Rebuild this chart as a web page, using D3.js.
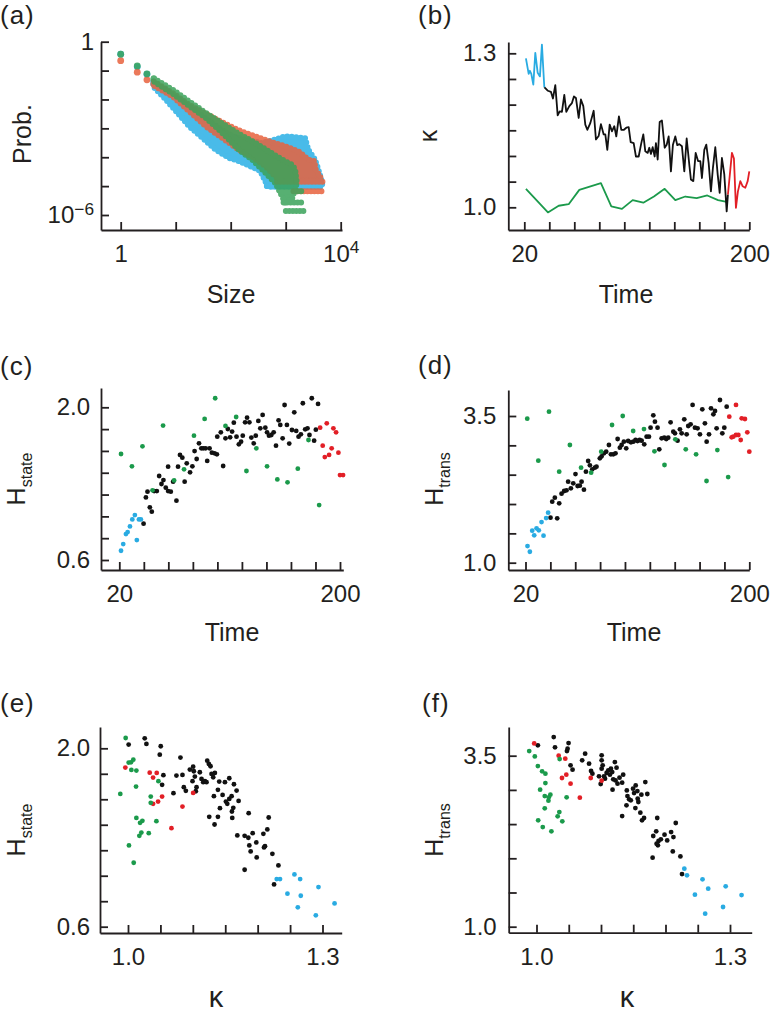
<!DOCTYPE html>
<html>
<head>
<meta charset="utf-8">
<script src="https://cdn.jsdelivr.net/npm/d3@7/dist/d3.min.js"></script>
<style>
  body { margin: 0; background: #fff; }
  svg text { font-family: "Liberation Sans", Arial, Helvetica, sans-serif; fill: #231f20; }
</style>
</head>
<body>
<script>
// ---------------- panel (a): size distributions, [size, prob] ----------------
var aBlueHead = [[1, 0.37], [2, 0.137], [3, 0.075]];
var aRedHead = [[1, 0.22], [2, 0.088], [3, 0.048], [4, 0.034]];
var aGreenHead = [[1, 0.37], [2, 0.145], [3, 0.077], [4, 0.051]];

// outline of each dense cloud: upper edge left->right, then lower edge right->left
var aBlueCloud = [[3.9, 4.2e-2], [11.7, 9.7e-3], [23.4, 3.9e-3], [46.7, 1.45e-3], [93, 6.0e-4], [186, 3.9e-4],
  [372, 3.1e-4], [647, 4.1e-4], [979, 5.3e-4], [1483, 5.0e-4], [2244, 4.6e-4], [2576, 1.8e-4], [3400, 8.3e-5],
  [3907, 3.8e-5], [4365, 1.9e-5], [4613, 1.14e-5],
  [4613, 9.5e-6], [1483, 9.5e-6], [458, 9.5e-6], [440, 1.3e-5], [347, 3.3e-5], [246, 4.6e-5], [141, 7.3e-5],
  [93, 9.5e-5], [53.7, 1.8e-4], [30.9, 4.6e-4], [17.7, 1.17e-3], [10.2, 3.9e-3], [5.9, 1.27e-2], [3.9, 2.8e-2]];
var aRedCloud = [[4.0, 4.2e-2], [8.9, 1.65e-2], [17.7, 6.5e-3], [35.5, 3.2e-3], [70.8, 1.6e-3], [141, 8.5e-4],
  [282, 5.3e-4], [563, 3.3e-4], [979, 2.4e-4], [1702, 1.6e-4], [2576, 8.3e-5], [3311, 7.3e-5], [3499, 3.8e-5],
  [4365, 1.9e-5],
  [4487, 1.6e-5], [853, 1.5e-5], [647, 2.2e-5], [427, 4.9e-5], [246, 1.03e-4], [141, 1.8e-4], [70.8, 4.6e-4],
  [35.5, 1.17e-3], [17.7, 3.9e-3], [8.9, 1.27e-2], [4.0, 3.0e-2]];
var aGreenCloud = [[4.0, 5.4e-2], [8.9, 2.15e-2], [17.7, 8.5e-3], [35.5, 3.4e-3], [70.8, 1.45e-3], [141, 6.5e-4],
  [282, 3.1e-4], [491, 1.6e-4], [853, 8.3e-5], [1291, 5.6e-5], [1483, 3.8e-5], [1589, 1.3e-5],
  [1483, 7.7e-6], [1291, 3.5e-6], [979, 2.7e-6], [796, 5.9e-6], [647, 1.3e-5], [491, 2.2e-5], [372, 3.8e-5],
  [246, 8.3e-5], [141, 1.8e-4], [70.8, 6.9e-4], [35.5, 2.3e-3], [17.7, 6.0e-3], [8.9, 1.57e-2], [4.0, 4.2e-2]];

// rows of single-count sizes at the bottom: [from size, to size, prob]
var aBlueRows = [[458, 4613, 1.0e-5]];
var aRedRows = [[693, 5012, 1.41e-5], [1384, 4487, 6.7e-6]];
var aGreenRows = [[796, 1955, 6.7e-6], [916, 2084, 2.7e-6], [1007, 2244, 1.37e-6]];

// ---------------- panel (b): kappa over time, [time, kappa] ----------------
var bBlue = [[21.3, 1.290], [23.5, 1.260], [24.5, 1.266], [25.6, 1.260], [27.2, 1.239], [28.8, 1.301],
  [30.7, 1.262], [32.5, 1.255], [34.1, 1.317], [36.0, 1.234]];
var bBlack = [[36.0, 1.234], [38.9, 1.227], [41.3, 1.225], [42.9, 1.212], [44.8, 1.238], [46.7, 1.179],
  [48.3, 1.187], [50.1, 1.186], [52.0, 1.219], [53.6, 1.186], [56.0, 1.197], [58.1, 1.203], [59.7, 1.216],
  [61.3, 1.213], [63.5, 1.174], [65.3, 1.210], [67.2, 1.197], [68.8, 1.161], [70.4, 1.151], [72.8, 1.164],
  [75.5, 1.188], [77.3, 1.132], [79.5, 1.139], [81.3, 1.162], [83.5, 1.142], [84.8, 1.142], [86.4, 1.112],
  [88.3, 1.161], [90.1, 1.148], [92.0, 1.158], [93.6, 1.138], [95.7, 1.177], [97.6, 1.151], [99.7, 1.151],
  [101.6, 1.155], [103.5, 1.156], [105.1, 1.127], [107.5, 1.125], [109.3, 1.099], [111.5, 1.099],
  [113.6, 1.125], [115.2, 1.142], [116.8, 1.109], [118.7, 1.106], [120.0, 1.116], [121.3, 1.104],
  [122.7, 1.117], [124.3, 1.099], [125.3, 1.125], [126.7, 1.093], [128.3, 1.166], [130.1, 1.169],
  [132.3, 1.116], [133.9, 1.122], [135.5, 1.138], [137.3, 1.070], [138.9, 1.122], [140.8, 1.138],
  [142.4, 1.121], [144.0, 1.123], [146.1, 1.119], [148.0, 1.070], [149.9, 1.134], [152.0, 1.083],
  [153.3, 1.054], [155.2, 1.051], [157.1, 1.106], [159.0, 1.090], [160.8, 1.090], [162.1, 1.057],
  [164.0, 1.112], [165.6, 1.122], [167.5, 1.086], [169.3, 1.031], [170.9, 1.077], [172.8, 1.117],
  [174.7, 1.064], [176.3, 1.028], [178.1, 1.096], [180.0, 1.064], [181.9, 0.992], [182.9, 1.025]];
var bRed = [[182.9, 1.025], [186.1, 1.106], [187.7, 1.095], [189.3, 0.999], [190.9, 1.031], [192.8, 1.051],
  [194.7, 1.041], [196.8, 1.038], [198.7, 1.051], [200.0, 1.070]];
var bGreen = [[21.3, 1.036], [38.9, 0.990], [47.5, 1.003], [55.5, 1.006], [64.0, 1.034], [81.3, 1.047],
  [89.6, 1.002], [98.1, 0.997], [106.7, 1.014], [115.2, 1.009], [123.7, 1.021], [132.3, 1.036],
  [140.8, 1.014], [148.8, 1.021], [157.9, 1.018], [166.4, 1.023], [175.0, 1.014], [182.9, 1.010]];

// ---------------- panels (c),(d): entropies over time, [time, H] ----------------
var greenTime = [21.4, 30.3, 38.9, 47.1, 55.7, 64.7, 72.8, 80.9, 89.6, 98.2, 106.6, 115.3, 123.7, 131.8,
  140.5, 148.9, 157.2, 165.6, 174.3, 183.0];
var cGreenH = [1.572, 1.459, 1.642, 1.239, 1.832, 1.330, 1.431, 1.740, 1.893, 2.083, 1.829, 1.911, 1.416,
  1.624, 1.459, 1.339, 1.312, 1.437, 1.700, 1.104];
var dGreenH = [3.455, 2.739, 3.574, 2.551, 3.006, 2.619, 2.534, 2.892, 3.347, 3.500, 3.244, 3.278, 2.898,
  2.665, 3.102, 2.932, 2.847, 2.392, 2.920, 2.460];

var cBlue = [[21.4, 0.685], [23.2, 0.746], [25.4, 0.838], [26.8, 0.856], [28.7, 0.908], [30.6, 0.972],
  [32.7, 1.012], [34.3, 0.783], [36.0, 0.972], [37.6, 0.972]];
var cBlack = [[39.8, 0.933], [41.7, 1.174], [43.0, 1.226], [44.9, 1.083], [46.5, 1.043], [48.4, 1.232],
  [50.6, 1.232], [52.5, 1.370], [54.4, 1.297], [56.0, 1.333], [57.9, 1.263], [59.8, 1.232], [59.8, 1.456],
  [62.0, 1.226], [63.9, 1.318], [66.6, 1.144], [67.9, 1.456], [69.5, 1.563], [71.4, 1.538], [73.3, 1.318],
  [75.0, 1.486], [77.7, 1.404], [79.6, 1.459], [81.4, 1.599], [83.1, 1.526], [85.0, 1.670], [86.9, 1.624],
  [88.5, 1.624], [90.4, 1.624], [91.7, 1.508], [93.6, 1.624], [95.5, 1.584], [97.7, 1.578], [99.6, 1.569],
  [99.9, 1.731], [102.8, 1.771], [104.7, 1.462], [106.6, 1.716], [108.5, 1.801], [110.4, 1.725],
  [112.0, 1.777], [113.4, 1.859], [115.6, 1.731], [117.5, 1.661], [119.3, 1.685], [120.7, 1.740],
  [122.6, 1.862], [124.2, 1.905], [126.1, 1.862], [127.7, 1.722], [129.6, 1.670], [131.3, 1.740],
  [133.4, 1.875], [135.0, 1.807], [136.9, 1.930], [139.1, 1.813], [140.5, 1.771], [142.1, 1.740],
  [144.0, 1.746], [145.9, 1.771], [147.8, 1.648], [149.9, 1.881], [151.3, 1.838], [153.2, 1.716],
  [154.8, 2.021], [156.7, 1.838], [158.6, 1.667], [160.8, 1.792], [162.7, 1.954], [164.3, 1.783],
  [166.2, 1.731], [168.1, 1.752], [169.7, 2.037], [171.6, 1.798], [173.5, 1.807], [175.1, 1.746],
  [177.0, 2.083], [178.9, 1.694], [180.3, 1.795], [182.1, 2.031]];
var cRed = [[183.8, 1.813], [185.9, 1.648], [187.6, 1.544], [189.2, 1.853], [191.1, 1.563], [193.2, 1.624],
  [194.6, 1.807], [196.8, 1.771], [198.7, 1.584], [200.0, 1.379], [202.5, 1.379]];

var dBlue = [[21.6, 1.284], [23.5, 1.187], [25.4, 1.545], [27.0, 1.466], [28.9, 1.585], [30.7, 1.551],
  [32.9, 1.693], [34.5, 1.460], [36.6, 1.761], [38.2, 1.852]];
var dBlack = [[40.1, 1.767], [41.5, 2.040], [43.6, 2.108], [45.5, 1.756], [47.1, 2.011], [49.0, 2.176],
  [51.1, 2.222], [53.0, 2.233], [54.3, 2.381], [56.5, 2.267], [58.4, 2.352], [60.2, 2.511], [61.9, 2.307],
  [63.7, 2.312], [65.1, 2.381], [67.0, 2.244], [68.6, 2.551], [70.4, 2.733], [71.8, 2.659], [73.7, 2.591],
  [75.8, 2.619], [77.1, 2.636], [79.8, 2.778], [81.2, 2.812], [83.1, 2.864], [84.9, 2.892], [87.1, 3.006],
  [88.7, 2.847], [90.6, 2.847], [92.4, 2.864], [94.1, 3.108], [95.9, 2.960], [97.3, 3.006], [99.1, 3.062],
  [101.0, 2.949], [102.6, 3.074], [104.8, 3.051], [106.7, 3.062], [108.5, 3.091], [110.1, 3.074],
  [111.8, 3.091], [113.4, 3.080], [115.5, 3.017], [117.4, 3.148], [119.3, 3.148], [120.6, 3.301],
  [122.8, 3.511], [124.1, 3.403], [126.2, 3.301], [127.6, 2.932], [129.5, 3.119], [131.6, 3.131],
  [133.2, 3.108], [134.8, 3.131], [136.7, 3.392], [138.9, 3.233], [140.2, 3.205], [142.3, 3.080],
  [144.2, 3.273], [145.6, 3.205], [147.7, 3.443], [149.6, 3.187], [150.9, 3.330], [152.8, 3.358],
  [154.4, 3.688], [156.3, 3.301], [158.4, 3.290], [160.3, 3.187], [162.2, 3.614], [164.3, 3.375],
  [165.7, 3.062], [167.6, 3.187], [169.2, 3.631], [171.1, 3.528], [172.4, 3.585], [173.7, 3.290],
  [176.4, 3.773], [178.3, 3.205], [179.9, 3.301], [181.8, 3.659]];
var dRed = [[183.9, 3.489], [185.8, 3.136], [187.1, 3.148], [189.3, 3.688], [189.3, 3.176], [191.2, 3.176],
  [193.1, 3.091], [193.9, 3.460], [196.5, 3.449], [198.4, 3.222], [200.0, 2.892]];

// ---------------- panels (e),(f): entropies against kappa, [kappa, H] ----------------
var eGreen = [[0.9964, 2.081], [1.0010, 1.888], [1.0046, 1.890], [1.0082, 1.911], [1.0052, 1.830],
  [1.0129, 1.825], [1.0124, 1.700], [0.9881, 1.642], [1.0469, 1.742], [1.0351, 1.621], [1.0351, 1.572],
  [1.0438, 1.428], [1.0129, 1.454], [1.0222, 1.431], [1.0186, 1.415], [1.0206, 1.339], [1.0175, 1.313],
  [1.0320, 1.334], [1.0015, 1.238], [1.0088, 1.102]];
var eRed = [[0.9959, 1.849], [1.0335, 1.809], [1.0443, 1.807], [1.0387, 1.770], [1.0464, 1.582],
  [1.0387, 1.564], [1.0526, 1.621], [1.1005, 1.650], [1.0840, 1.543], [1.0670, 1.373]];
var eBlack = [[1.0258, 2.078], [1.0010, 2.029], [1.0284, 2.034], [1.0505, 2.016], [1.0490, 1.950],
  [1.0809, 1.927], [1.0546, 1.789], [1.0526, 1.713], [1.0747, 1.786], [1.0840, 1.791], [1.0701, 1.648],
  [1.0861, 1.695], [1.0892, 1.666], [1.0954, 1.833], [1.1005, 1.856], [1.1015, 1.820], [1.1031, 1.778],
  [1.0995, 1.742], [1.1057, 1.695], [1.1046, 1.663], [1.1108, 1.812], [1.1134, 1.760], [1.1160, 1.734],
  [1.1186, 1.742], [1.1211, 1.734], [1.1222, 1.903], [1.1247, 1.877], [1.1273, 1.859], [1.1289, 1.799],
  [1.1314, 1.773], [1.1340, 1.807], [1.1325, 1.624], [1.1407, 1.739], [1.1387, 1.674], [1.1418, 1.530],
  [1.1495, 1.734], [1.1459, 1.634], [1.1510, 1.582], [1.1531, 1.564], [1.1562, 1.603], [1.1562, 1.765],
  [1.1598, 1.624], [1.1624, 1.533], [1.1603, 1.504], [1.1634, 1.718], [1.1675, 1.668], [1.1706, 1.587],
  [1.1608, 1.454], [1.1253, 1.462], [1.1387, 1.462], [1.1335, 1.402], [1.1861, 1.491], [1.1686, 1.316],
  [1.1799, 1.313], [1.1856, 1.298], [1.1923, 1.334], [1.1871, 1.238], [1.1892, 1.191], [1.1979, 1.261],
  [1.1985, 1.144], [1.2088, 1.329], [1.2149, 1.363], [1.2170, 1.457], [1.2113, 1.232], [1.2098, 1.222],
  [1.2227, 1.172], [1.2320, 1.081], [1.2253, 0.932], [1.1799, 1.047]];
var eBlue = [[1.2294, 0.974], [1.2345, 0.974], [1.2567, 1.010], [1.2655, 0.974], [1.2459, 0.859],
  [1.2665, 0.843], [1.2619, 0.752], [1.2938, 0.911], [1.3186, 0.783], [1.2897, 0.689]];

var fGreen = [[0.9887, 3.568], [0.9974, 3.490], [1.0021, 3.349], [1.0087, 3.271], [1.0138, 3.237],
  [1.0138, 3.100], [1.0056, 3.003], [1.0128, 2.910], [1.0215, 2.930], [1.0185, 2.842], [1.0190, 2.891],
  [1.0128, 2.730], [1.0467, 2.891], [1.0359, 3.451], [1.0354, 2.676], [1.0328, 2.613], [1.0400, 2.540],
  [1.0026, 2.555], [1.0097, 2.457], [1.0231, 2.394]];
var fRed = [[0.9964, 3.680], [1.0344, 3.500], [1.0446, 3.456], [1.0462, 3.222], [1.0395, 3.174],
  [1.0528, 3.091], [1.0672, 2.886], [1.0841, 3.174], [1.1010, 3.135]];
var fBlack = [[1.0021, 3.651], [1.0267, 3.773], [1.0287, 3.622], [1.0472, 3.568], [1.0497, 3.685],
  [1.0482, 3.602], [1.0528, 3.359], [1.0559, 3.295], [1.0708, 3.432], [1.0754, 3.529], [1.0815, 3.383],
  [1.0846, 3.276], [1.0867, 3.237], [1.0969, 3.198], [1.1010, 3.505], [1.1010, 3.432], [1.1026, 3.359],
  [1.1010, 3.310], [1.0995, 3.086], [1.1046, 3.198], [1.1062, 3.164], [1.1087, 3.247], [1.1113, 3.286],
  [1.1138, 3.222], [1.1154, 3.310], [1.1174, 3.261], [1.1190, 3.154], [1.1215, 3.407], [1.1241, 3.325],
  [1.1226, 3.139], [1.1256, 3.091], [1.1287, 3.178], [1.1328, 3.105], [1.1344, 3.222], [1.1179, 3.003],
  [1.1400, 2.993], [1.1410, 2.910], [1.1436, 2.862], [1.1395, 2.774], [1.1462, 2.847], [1.1497, 3.018],
  [1.1513, 2.954], [1.1538, 3.066], [1.1564, 2.983], [1.1569, 2.871], [1.1579, 2.823], [1.1533, 2.735],
  [1.1610, 2.667], [1.1626, 2.930], [1.1636, 2.555], [1.1667, 2.589], [1.1718, 2.940], [1.1687, 3.115],
  [1.1328, 2.618], [1.1810, 2.326], [1.1856, 2.394], [1.1892, 2.253], [1.1882, 2.189], [1.1862, 2.214],
  [1.1928, 2.277], [1.1985, 2.345], [1.2026, 2.262], [1.1872, 2.589], [1.2087, 2.384], [1.2123, 2.311],
  [1.2159, 2.516], [1.2113, 2.101], [1.2231, 2.028], [1.2256, 1.770], [1.1800, 2.009]];
var fBlue = [[1.2292, 1.848], [1.2333, 1.751], [1.2456, 1.468], [1.2574, 1.692], [1.2662, 1.556],
  [1.2615, 1.190], [1.2892, 1.288], [1.2933, 1.590], [1.3179, 1.463]];

// tick values
var timeTicks = [20, 40, 60, 80, 100, 120, 140, 160, 180, 200];
var kappaTicks = [1.0, 1.05, 1.1, 1.15, 1.2, 1.25, 1.3];
var stateTicks = [0.6, 0.8, 1.0, 1.2, 1.4, 1.6, 1.8, 2.0];
var transTicks = [1.0, 1.5, 2.0, 2.5, 3.0, 3.5];
var sizeTicks = [1, 10, 100, 1000, 10000];
var probTicks = [1, 1e-1, 1e-2, 1e-3, 1e-4, 1e-5, 1e-6];

var BLUE = "#29abe2", BLACK = "#111111", RED = "#e21f26", GREEN = "#1b9a4b", INK = "#231f20";
var f1 = d3.format(".1f");

var svg = d3.select("body").append("svg").attr("width", 772).attr("height", 1016);

// scale anchored at two known ticks, stretched to the axis line ends a..b
function makeScale(log, v0, p0, v1, p1, a, b) {
  var s = (log ? d3.scaleLog() : d3.scaleLinear()).domain([v0, v1]).range([p0, p1]);
  return s.copy().domain([s.invert(a), s.invert(b)]).range([a, b]);
}

function drawAxes(x, y, o) {
  var bottom = y.range()[0], left = x.range()[0];
  var gx = svg.append("g").attr("transform", "translate(0," + bottom + ")")
    .call(d3.axisBottom(x).tickValues(o.xTicks).tickSize(-8).tickSizeOuter(0).tickPadding(o.xPad)
      .tickFormat(function(d) { return o.xLab.indexOf(d) >= 0 ? o.xFmt(d) : ""; }));
  var gy = svg.append("g").attr("transform", "translate(" + left + ",0)")
    .call(d3.axisLeft(y).tickValues(o.yTicks).tickSize(-8).tickSizeOuter(0).tickPadding(o.yPad)
      .tickFormat(function(d) { return o.yLab.indexOf(d) >= 0 ? o.yFmt(d) : ""; }));
  [gx, gy].forEach(function(g) {
    g.attr("font-size", 24).attr("font-family", null);
    g.selectAll("path, line").attr("stroke", INK).attr("stroke-width", 1.8);
    g.selectAll("text").attr("fill", INK).each(function() {
      var t = d3.select(this), s = t.text();
      if (s.indexOf("^") >= 0) {
        var parts = s.split("^");
        t.text(parts[0]);
        t.append("tspan").attr("dy", "-0.5em").attr("font-size", "0.72em").text(parts[1]);
      }
    });
  });
}

function xTitle(cx, base, label, size) {
  svg.append("text").attr("x", cx).attr("y", base).attr("text-anchor", "middle")
    .attr("font-size", size || 25).text(label);
}

function yTitle(bx, cy, main, sub) {
  var t = svg.append("text").attr("transform", "translate(" + bx + "," + cy + ") rotate(-90)")
    .attr("text-anchor", "middle").attr("font-size", 25);
  t.append("tspan").text(main);
  if (sub) t.append("tspan").attr("font-size", 16).attr("dy", 7).text(sub);
}

function panelLabel(x, base, label) {
  svg.append("text").attr("x", x).attr("y", base).attr("font-size", 26).attr("letter-spacing", 1).text(label);
}

function dots(x, y, data, color) {
  svg.append("g").selectAll("circle").data(data).enter().append("circle")
    .attr("cx", function(d) { return x(d[0]); })
    .attr("cy", function(d) { return y(d[1]); })
    .attr("r", 2.4).attr("fill", color);
}

// ---------------- (a) ----------------
(function() {
  var x = makeScale(true, 1, 120.7, 1e4, 340.7, 101, 342);
  var y = makeScale(true, 1, 41.7, 1e-6, 215, 230, 41.7);
  var clouds = [[aBlueCloud, aBlueRows, aBlueHead, "#2ab0e6"],
                [aRedCloud, aRedRows, aRedHead, "#e8623e"],
                [aGreenCloud, aGreenRows, aGreenHead, "#3aa35a"]];
  var line = d3.line().x(function(d) { return x(d[0]); }).y(function(d) { return y(d[1]); });
  clouds.forEach(function(c) {
    var g = svg.append("g").attr("opacity", 0.85);
    g.append("path").attr("d", line(c[0]) + "Z").attr("fill", c[3]);
    // beaded outline so the cloud edge reads as a row of dots
    g.append("path").attr("d", line(c[0]) + "Z").attr("fill", "none").attr("stroke", c[3])
      .attr("stroke-width", 6).attr("stroke-dasharray", "0,4.5").attr("stroke-linecap", "round");
    g.selectAll("line").data(c[1]).enter().append("line")
      .attr("x1", function(d) { return x(d[0]); }).attr("x2", function(d) { return x(d[1]); })
      .attr("y1", function(d) { return y(d[2]); }).attr("y2", function(d) { return y(d[2]); })
      .attr("stroke", c[3]).attr("stroke-width", 6).attr("stroke-dasharray", "0,3.5")
      .attr("stroke-linecap", "round");
    g.selectAll("circle").data(c[2]).enter().append("circle")
      .attr("cx", function(d) { return x(d[0]); }).attr("cy", function(d) { return y(d[1]); })
      .attr("r", 3.4).attr("fill", c[3]);
  });
  drawAxes(x, y, {xTicks: sizeTicks, xLab: [1, 10000], xFmt: function(d) { return d === 1 ? "1" : "10^4"; }, xPad: 15,
    yTicks: probTicks, yLab: [1, 1e-6], yFmt: function(d) { return d === 1 ? "1" : "10^\u22126"; }, yPad: 7});
  xTitle(231, 303, "Size");
  yTitle(31, 134, "Prob.");
  panelLabel(0, 24, "(a)");
})();

// ---------------- (b) ----------------
(function() {
  var x = makeScale(false, 20, 524.3, 200, 749.3, 508.3, 749.3);
  var y = makeScale(false, 1.0, 207.3, 1.3, 53.3, 230, 42);
  var line = d3.line().x(function(d) { return x(d[0]); }).y(function(d) { return y(d[1]); });
  [[bGreen, GREEN], [bBlack, BLACK], [bBlue, BLUE], [bRed, RED]].forEach(function(s) {
    svg.append("path").attr("d", line(s[0])).attr("fill", "none").attr("stroke", s[1])
      .attr("stroke-width", 1.8).attr("stroke-linejoin", "round");
  });
  drawAxes(x, y, {xTicks: timeTicks, xLab: [20, 200], xFmt: String, xPad: 15,
    yTicks: kappaTicks, yLab: [1.0, 1.3], yFmt: f1, yPad: 12});
  xTitle(626, 303, "Time");
  yTitle(437, 136, "\u03ba");
  panelLabel(418, 24, "(b)");
})();

// ---------------- (c) ----------------
(function() {
  var x = makeScale(false, 20, 119.3, 200, 340, 101, 343.3);
  var y = makeScale(false, 0.6, 560, 2.0, 407.3, 570, 388);
  dots(x, y, cBlack, BLACK);
  dots(x, y, cBlue, BLUE);
  dots(x, y, cRed, RED);
  dots(x, y, greenTime.map(function(t, i) { return [t, cGreenH[i]]; }), GREEN);
  drawAxes(x, y, {xTicks: timeTicks, xLab: [20, 200], xFmt: String, xPad: 15,
    yTicks: stateTicks, yLab: [0.6, 2.0], yFmt: f1, yPad: 11});
  xTitle(232, 641, "Time");
  yTitle(25, 479, "H", "state");
  panelLabel(0, 375, "(c)");
})();

// ---------------- (d) ----------------
(function() {
  var x = makeScale(false, 20, 525.5, 200, 749.3, 508.3, 749.3);
  var y = makeScale(false, 1.0, 562.7, 3.5, 416, 570, 390);
  dots(x, y, dBlack, BLACK);
  dots(x, y, dBlue, BLUE);
  dots(x, y, dRed, RED);
  dots(x, y, greenTime.map(function(t, i) { return [t, dGreenH[i]]; }), GREEN);
  drawAxes(x, y, {xTicks: timeTicks, xLab: [20, 200], xFmt: String, xPad: 15,
    yTicks: transTicks, yLab: [1.0, 3.5], yFmt: f1, yPad: 12});
  xTitle(634, 641, "Time");
  yTitle(443, 479, "H", "trans");
  panelLabel(418, 374, "(d)");
})();

// ---------------- (e) ----------------
(function() {
  var x = makeScale(false, 1.0, 128, 1.3, 322.5, 100, 341.7);
  var y = makeScale(false, 0.6, 926.7, 2.0, 748.3, 933, 727);
  dots(x, y, eBlack, BLACK);
  dots(x, y, eBlue, BLUE);
  dots(x, y, eRed, RED);
  dots(x, y, eGreen, GREEN);
  drawAxes(x, y, {xTicks: kappaTicks, xLab: [1.0, 1.3], xFmt: f1, xPad: 15,
    yTicks: stateTicks, yLab: [0.6, 2.0], yFmt: f1, yPad: 10});
  xTitle(216, 1007, "\u03ba", 29);
  yTitle(25, 830, "H", "state");
  panelLabel(0, 712, "(e)");
})();

// ---------------- (f) ----------------
(function() {
  var x = makeScale(false, 1.0, 536.5, 1.3, 730, 508.7, 751.7);
  var y = makeScale(false, 1.0, 926.7, 3.5, 755.7, 932.7, 727);
  dots(x, y, fBlack, BLACK);
  dots(x, y, fBlue, BLUE);
  dots(x, y, fRed, RED);
  dots(x, y, fGreen, GREEN);
  drawAxes(x, y, {xTicks: kappaTicks, xLab: [1.0, 1.3], xFmt: f1, xPad: 15,
    yTicks: transTicks, yLab: [1.0, 3.5], yFmt: f1, yPad: 12});
  xTitle(627, 1007, "\u03ba", 29);
  yTitle(443, 830, "H", "trans");
  panelLabel(422, 712, "(f)");
})();
</script>
</body>
</html>
